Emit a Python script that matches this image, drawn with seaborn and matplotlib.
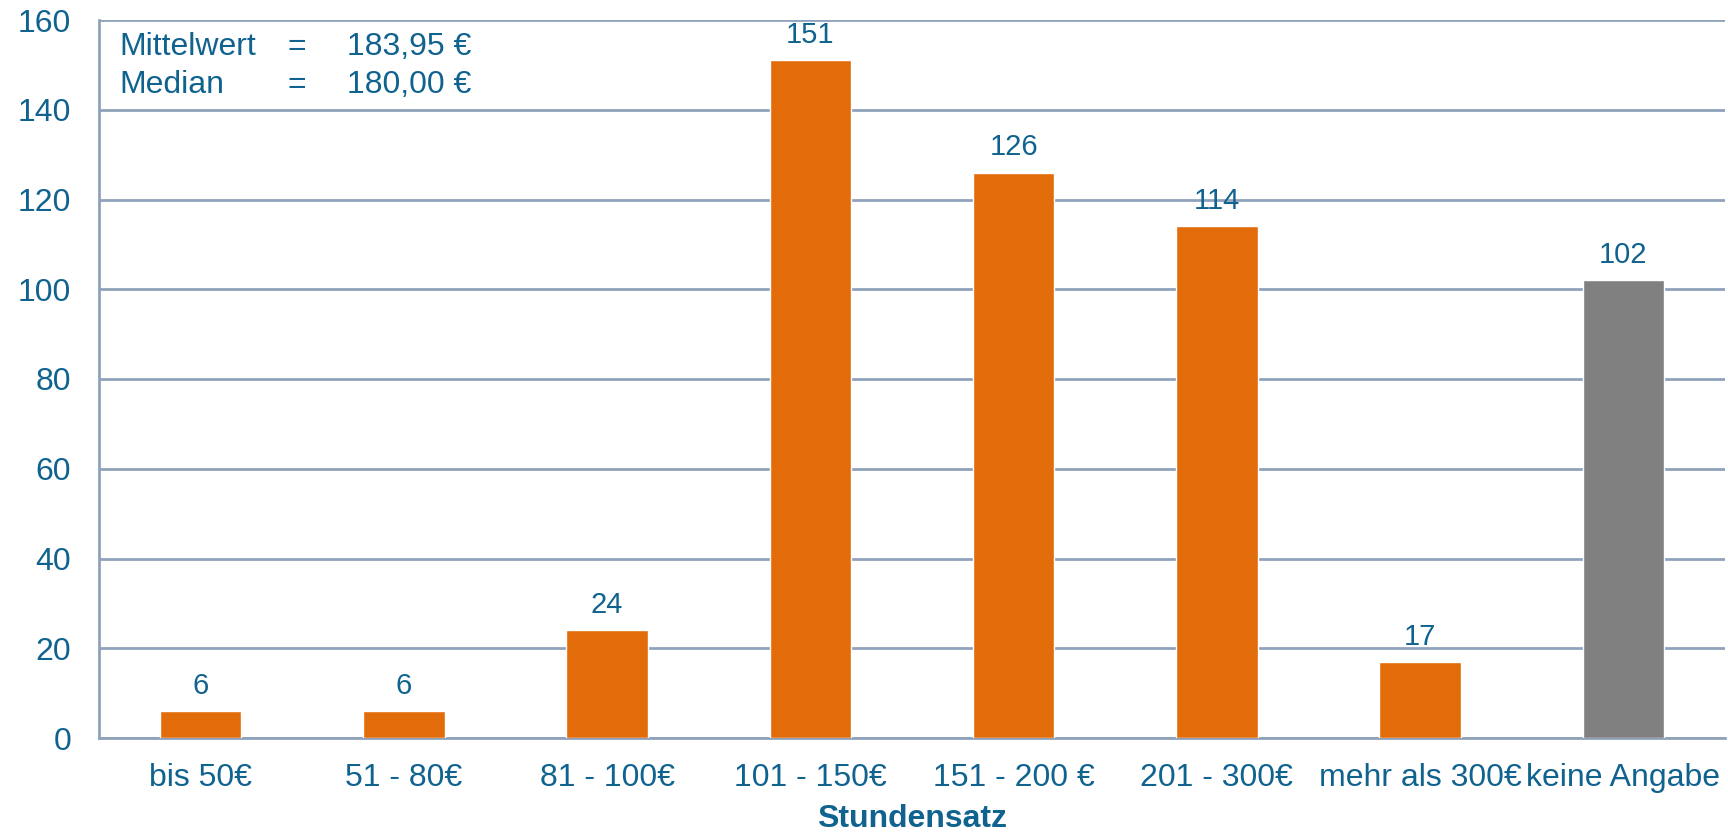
import matplotlib
matplotlib.use("Agg")
import matplotlib.pyplot as plt
import seaborn as sns
import pandas as pd
from matplotlib import font_manager

# Hourly rate brackets and number of responses
categories = ["bis 50€", "51 - 80€", "81 - 100€", "101 - 150€", "151 - 200 €",
              "201 - 300€", "mehr als 300€", "keine Angabe"]
counts = [6, 6, 24, 151, 126, 114, 17, 102]
bar_colors = ["#e36c0a"] * 7 + ["#808080"]
y_ticks = [0, 20, 40, 60, 80, 100, 120, 140, 160]
summary_labels = ["Mittelwert", "Median"]
summary_values = ["183,95 €", "180,00 €"]

TEXT = "#10628f"
GRID = "#8fa2bc"

sns.set_theme(style="white")
plt.rcParams["font.family"] = ["Liberation Sans", "DejaVu Sans"]

installed = {f.name for f in font_manager.fontManager.ttflist}
if "Liberation Sans Narrow" in installed:
    value_font, value_size = "Liberation Sans Narrow", 23
else:
    value_font, value_size = "Liberation Sans", 21

df = pd.DataFrame({"Stundensatz": categories, "Anzahl": counts})

fig = plt.figure(figsize=(17.28, 8.33), dpi=100)
ax = fig.add_axes([99 / 1728, 1 - 738 / 833, (1725 - 99) / 1728, (738 - 20) / 833])

sns.barplot(data=df, x="Stundensatz", y="Anzahl", hue="Stundensatz",
            palette=bar_colors, legend=False, width=0.4, saturation=1,
            ax=ax, zorder=3)

ax.set_xlim(-0.5, len(categories) - 0.5)
ax.set_ylim(0, 160)
ax.set_yticks(y_ticks)
ax.yaxis.grid(True, color=GRID, linewidth=2, zorder=0)
ax.set_axisbelow(True)

for side in ["top", "right"]:
    ax.spines[side].set_visible(False)
for side in ["left", "bottom"]:
    ax.spines[side].set_color(GRID)
    ax.spines[side].set_linewidth(2)

ax.tick_params(axis="y", length=0, pad=20, labelsize=23, labelcolor=TEXT)
ax.tick_params(axis="x", length=0, pad=18, labelsize=23, labelcolor=TEXT)
ax.set_ylabel("")
ax.set_xlabel("Stundensatz", fontsize=23, fontweight="bold", color=TEXT)
ax.xaxis.set_label_coords(0.5, -0.124)
ax.xaxis.label.set_verticalalignment("baseline")

for container in ax.containers:
    ax.bar_label(container, labels=[f"{int(v)}" for v in container.datavalues],
                 padding=8, fontsize=value_size, color=TEXT, family=value_font)

# Mean and median of the hourly rate, upper left inside the plot
for i, (lab, val) in enumerate(zip(summary_labels, summary_values)):
    y = 0.951 - i * 0.053
    ax.text(0.0123, y, lab, transform=ax.transAxes, fontsize=23, color=TEXT, va="baseline", ha="left")
    ax.text(0.116, y, "=", transform=ax.transAxes, fontsize=23, color=TEXT, va="baseline", ha="left")
    ax.text(0.1525, y, val, transform=ax.transAxes, fontsize=23, color=TEXT, va="baseline", ha="left")

fig.savefig("out.png", dpi=100)
